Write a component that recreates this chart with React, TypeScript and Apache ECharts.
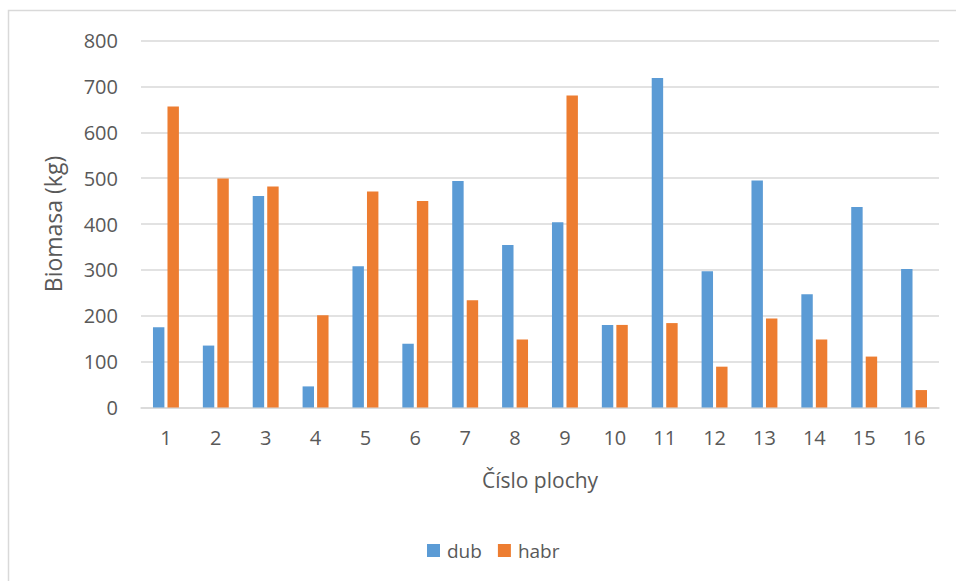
import React, { useEffect, useRef } from "react";
import * as echarts from "echarts";

const categories = ["1", "2", "3", "4", "5", "6", "7", "8", "9", "10", "11", "12", "13", "14", "15", "16"];
const dubValues = [175, 135, 461, 46, 308, 139, 494, 354, 404, 180, 718, 297, 495, 247, 437, 302];
const habrValues = [656, 499, 482, 201, 471, 450, 234, 148, 680, 180, 184, 89, 194, 148, 111, 38];
const seriesNames = ["dub", "habr"];
const xAxisTitle = "Číslo plochy";
const yAxisTitle = "Biomasa (kg)";

const FONT = "'Open Sans', 'Noto Sans', sans-serif";
const TEXT = "#595959";

export default function App() {
  const ref = useRef<HTMLDivElement>(null);
  useEffect(() => {
    if (!ref.current) return;
    const chart = echarts.init(ref.current, null, { renderer: "svg" });
    chart.setOption({
      animation: false,
      backgroundColor: "#ffffff",
      textStyle: { fontFamily: FONT },
      graphic: [
        {
          type: "rect",
          shape: { x: 8.5, y: 10.5, width: 1200, height: 1200 },
          style: { fill: "none", stroke: "#d9d9d9", lineWidth: 1.5 },
          silent: true,
          z: -1,
        },
      ],
      grid: { left: 141, right: 17, top: 40.5, bottom: 173.5 },
      legend: {
        data: seriesNames,
        left: 422,
        top: 536,
        itemWidth: 13,
        itemHeight: 13,
        itemGap: 16,
        icon: "rect",
        textStyle: { color: TEXT, fontSize: 19, fontFamily: FONT, padding: [0, 0, 0, 2] },
      },
      xAxis: {
        type: "category",
        data: categories,
        name: xAxisTitle,
        nameLocation: "middle",
        nameGap: 62,
        nameTextStyle: { color: TEXT, fontSize: 21, fontFamily: FONT },
        axisLine: { show: true, lineStyle: { color: "#d9d9d9", width: 1.5 } },
        axisTick: { show: false },
        axisLabel: { color: TEXT, fontSize: 20, fontFamily: FONT, margin: 20 },
      },
      yAxis: {
        type: "value",
        min: 0,
        max: 800,
        interval: 100,
        name: yAxisTitle,
        nameLocation: "middle",
        nameGap: 77,
        nameTextStyle: { color: TEXT, fontSize: 23, fontFamily: FONT },
        axisLine: { show: false },
        axisTick: { show: false },
        axisLabel: { color: TEXT, fontSize: 20, fontFamily: FONT, margin: 23 },
        splitLine: { lineStyle: { color: "#d9d9d9", width: 1.5 } },
      },
      series: [
        {
          name: seriesNames[0],
          type: "bar",
          data: dubValues,
          itemStyle: { color: "#5B9BD5" },
          barGap: "27%",
          barCategoryGap: "48%",
        },
        {
          name: seriesNames[1],
          type: "bar",
          data: habrValues,
          itemStyle: { color: "#ED7D31" },
          barGap: "27%",
          barCategoryGap: "48%",
        },
      ],
    });
    return () => chart.dispose();
  }, []);
  return (
    <div
      ref={ref}
      style={{ position: "absolute", left: 0, top: 0, width: 956, height: 581 }}
    />
  );
}
